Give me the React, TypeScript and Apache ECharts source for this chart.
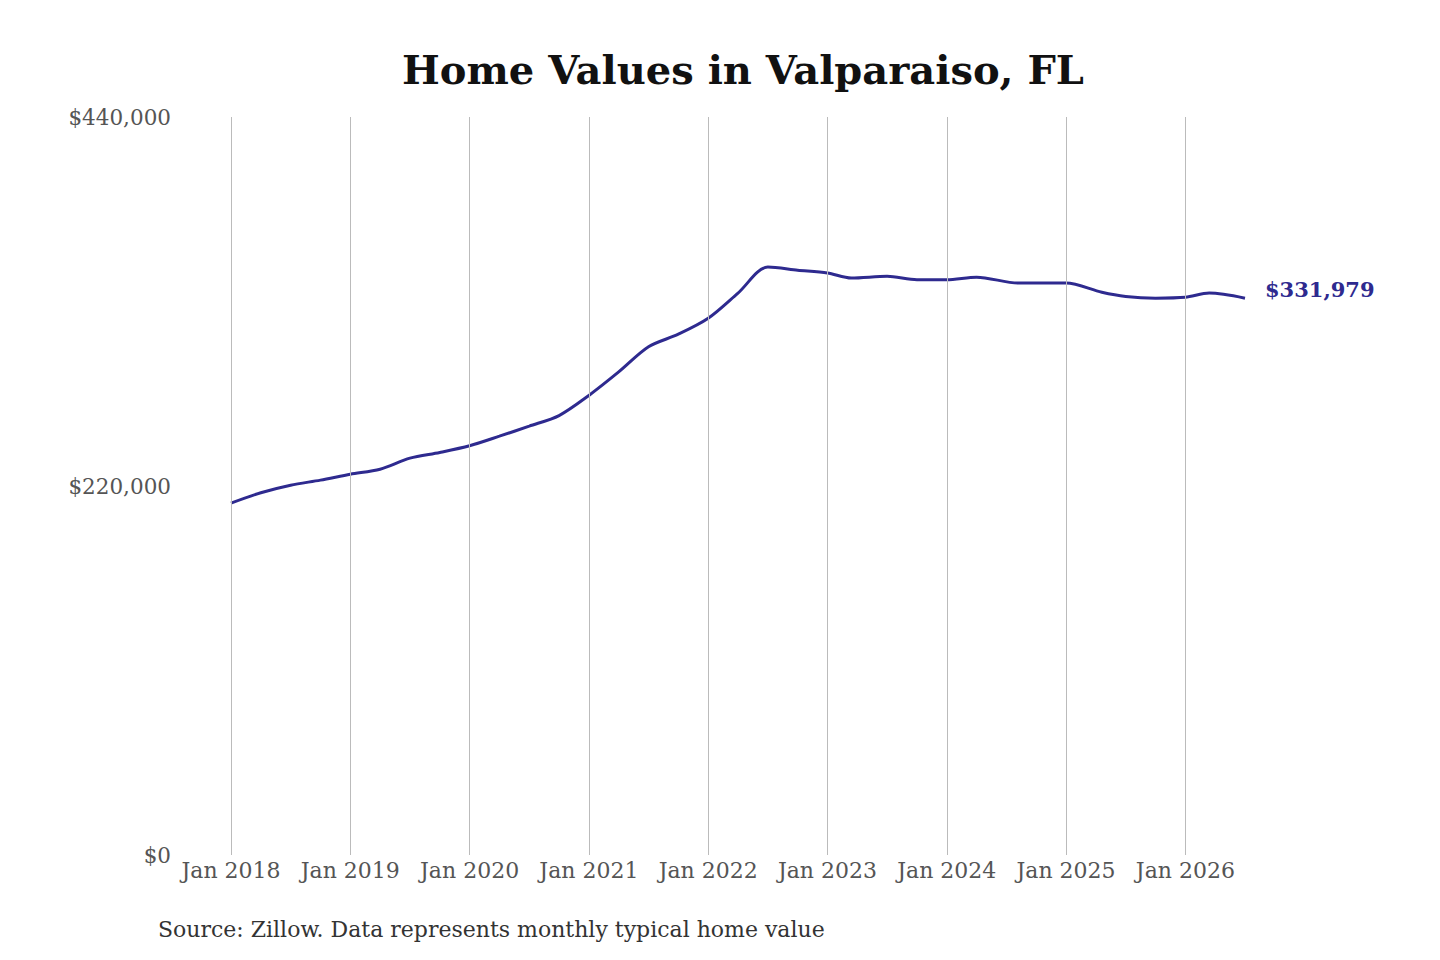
import { useEffect, useRef } from "react";
import * as echarts from "echarts";

// fractional years (Jan 2018 = 2018.0) and typical home values
const years = [
  2018, 2018.25, 2018.5, 2018.75, 2019, 2019.25, 2019.5, 2019.75, 2020, 2020.25, 2020.5, 2020.75,
  2021, 2021.25, 2021.5, 2021.75, 2022, 2022.25, 2022.5, 2022.75, 2023, 2023.2, 2023.5, 2023.75,
  2024, 2024.25, 2024.6, 2024.8, 2025, 2025.3, 2025.5, 2025.75, 2026, 2026.2, 2026.5,
];
const values = [
  209800, 216000, 220500, 223500, 227000, 230000, 236600, 240000, 244000, 249700, 255700, 262000,
  274000, 288000, 303000, 310500, 320000, 335000, 350500, 348700, 347000, 344000, 345000, 343000,
  343000, 344500, 341000, 341000, 341000, 335500, 333000, 332000, 332500, 335000, 331979,
];
const janTicks = [2018, 2019, 2020, 2021, 2022, 2023, 2024, 2025, 2026];
const lineColor = "#2e2a8f";
const serif = "'DejaVu Serif', serif";

export default function App() {
  const ref = useRef<HTMLDivElement>(null);

  useEffect(() => {
    if (!ref.current) return;
    const chart = echarts.init(ref.current, null, { renderer: "svg" });
    const lastValue = values[values.length - 1];
    chart.setOption({
      animation: false,
      backgroundColor: "#fff",
      title: {
        text: "Home Values in Valparaiso, FL", left: 738, top: 44, textAlign: "center",
        textStyle: { fontFamily: serif, fontWeight: "bold", fontSize: 40, color: "#111" },
      },
      graphic: [{
        type: "text", left: 158, top: 918,
        style: { text: "Source: Zillow. Data represents monthly typical home value", font: `22px ${serif}`, fill: "#333" },
      }],
      grid: { left: 231, right: 195, top: 117, bottom: 105 },
      xAxis: {
        type: "value", min: 2018, max: 2026.5, interval: 1,
        axisLine: { show: false }, axisTick: { show: false }, splitLine: { show: false },
        axisLabel: {
          formatter: (v: number) => (Number.isInteger(v) ? "Jan " + v : ""),
          color: "#555", fontFamily: serif, fontSize: 22, margin: 4,
        },
      },
      yAxis: {
        type: "value", min: 0, max: 440000, interval: 220000,
        axisLine: { show: false }, axisTick: { show: false }, splitLine: { show: false },
        axisLabel: {
          formatter: (v: number) => "$" + v.toLocaleString("en-US"),
          color: "#555", fontFamily: serif, fontSize: 21.5, margin: 60,
        },
      },
      series: [{
        type: "line", data: years.map((y, i) => [y, values[i]]), showSymbol: false, smooth: 0.3,
        lineStyle: { color: lineColor, width: 3 },
        itemStyle: { color: lineColor },
        endLabel: {
          show: true, distance: 20,
          formatter: () => "$" + lastValue.toLocaleString("en-US"),
          color: lineColor, fontFamily: serif, fontWeight: "bold", fontSize: 21, offset: [0, -9],
        },
        markLine: {
          silent: true, symbol: "none", label: { show: false },
          lineStyle: { color: "#bbb", width: 1, type: "solid" },
          data: janTicks.map((t) => ({ xAxis: t })),
        },
      }],
    });
    return () => chart.dispose();
  }, []);

  return <div ref={ref} style={{ position: "fixed", left: 0, top: 0, width: 1440, height: 960 }} />;
}
